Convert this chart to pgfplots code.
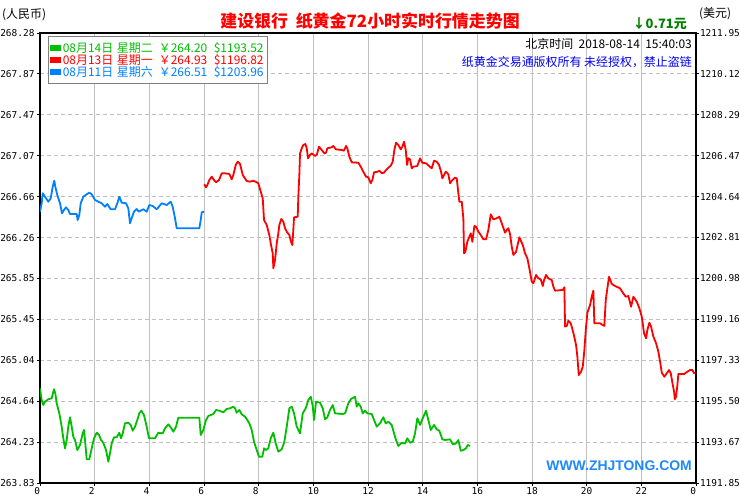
\documentclass[border=0pt]{standalone}
\usepackage{pgfplots}
\pgfplotsset{compat=1.18}
\usepackage{fontspec}
\setmainfont{DejaVu Sans}
\setmonofont{DejaVu Sans Mono}
\newfontfamily\cjk{Noto Sans CJK SC}
\newfontfamily\wm{Liberation Sans}
\definecolor{cgreen}{RGB}{0,190,0}
\definecolor{cred}{RGB}{255,0,0}
\definecolor{cblue}{RGB}{0,128,255}
\definecolor{gridc}{RGB}{192,192,192}
\definecolor{dkgreen}{RGB}{0,128,0}
\definecolor{wmblue}{RGB}{30,136,255}
\newcommand{\lent}[4]{\makebox[54bp][l]{#1}\makebox[42bp][l]{#2}\makebox[55bp][l]{#3}#4}
\begin{document}
\begin{tikzpicture}
\begin{axis}[
  scale only axis, width=656bp, height=450bp,
  xmin=0, xmax=24, ymin=263.83, ymax=268.28,
  axis line style={black, line width=1.2bp},
  xtick={0,2,...,24},
  xticklabels={0\phantom{0},2\phantom{0},4\phantom{0},6\phantom{0},8\phantom{0},10,12,14,16,18,20,22,0\phantom{0}},
  ytick={263.83,264.2345,264.639,265.0436,265.448,265.8527,266.257,266.6618,267.0664,267.4709,267.8755,268.28},
  yticklabels={263.83,264.23,264.64,265.04,265.45,265.85,266.26,266.66,267.07,267.47,267.87,268.28},
  tick align=outside, major tick length=3bp,
  tick style={black, line width=0.8bp},
  xtick pos=bottom, ytick pos=left,
  ticklabel style={font=\ttfamily\fontsize{9.5}{9.5}\selectfont},
  yticklabel style={xshift=1bp},
  xticklabel style={yshift=2bp},
  xmajorgrids, ymajorgrids,
  major x grid style={gridc, line width=1bp},
  major y grid style={gridc, line width=1bp, dash pattern=on 4bp off 3bp},
  legend style={at={(axis description cs:0.012,0.993)}, anchor=north west,
    draw={rgb,255:red,128;green,128;blue,128}, line width=1bp, fill=white,
    font=\cjk\fontsize{12}{12}\selectfont, inner xsep=1.5bp, inner ysep=3.5bp, row sep=-3.5bp,
    /tikz/every even column/.append style={column sep=1bp}},
  legend cell align=left,
  legend image code/.code={\fill[#1,draw=none] (0bp,-3bp) rectangle (11bp,3bp);},
  clip=true,
]
% Aug 14 (green)
\addplot[cgreen, line width=1.8bp, line join=round] coordinates {
(0,264.766)(0.062,264.651)(0.121,264.601)(0.183,264.634)(0.304,264.658)(0.428,264.668)
(0.512,264.757)(0.560,264.717)(0.611,264.618)(0.706,264.519)(0.794,264.387)(0.853,264.272)
(0.915,264.173)(0.977,264.255)(1.035,264.387)(1.098,264.480)(1.160,264.387)(1.218,264.288)
(1.281,264.255)(1.365,264.156)(1.464,264.206)(1.562,264.321)(1.610,264.354)(1.647,264.255)
(1.709,264.064)(1.804,264.064)(1.892,264.173)(1.976,264.272)(2.075,264.327)(2.159,264.305)
(2.232,264.255)(2.316,264.228)(2.415,264.156)(2.499,264.041)(2.561,264.124)(2.624,264.223)
(2.708,264.282)(2.806,264.282)(2.902,264.327)(2.964,264.272)(3.026,264.321)(3.110,264.420)
(3.231,264.426)(3.319,264.404)(3.392,264.347)(3.476,264.387)(3.560,264.453)(3.633,264.519)
(3.707,264.545)(3.805,264.502)(3.904,264.387)(3.988,264.272)(4.208,264.272)(4.329,264.327)
(4.490,264.321)(4.574,264.371)(4.694,264.410)(4.782,264.381)(4.877,264.337)(4.976,264.387)
(5.060,264.476)(5.829,264.476)(5.880,264.305)(5.975,264.354)(6.074,264.453)(6.158,264.493)
(6.341,264.512)(6.440,264.552)(6.561,264.545)(6.707,264.529)(6.831,264.562)(6.952,264.569)
(7.073,264.585)(7.135,264.569)(7.197,264.525)(7.292,264.552)(7.380,264.509)(7.501,264.486)
(7.585,264.453)(7.658,264.420)(7.746,264.354)(7.830,264.238)(7.929,264.156)(8.013,264.090)
(8.134,264.090)(8.196,264.173)(8.269,264.156)(8.353,264.173)(8.441,264.272)(8.537,264.327)
(8.624,264.223)(8.719,264.140)(8.844,264.163)(8.939,264.238)(9.027,264.387)(9.122,264.569)
(9.210,264.585)(9.294,264.519)(9.393,264.387)(9.513,264.321)(9.612,264.519)(9.722,264.569)
(9.817,264.651)(9.905,264.683)(9.978,264.591)(10.026,264.453)(10.099,264.634)(10.245,264.624)
(10.344,264.569)(10.428,264.460)(10.512,264.480)(10.611,264.552)(10.710,264.601)(10.794,264.519)
(11.076,264.512)(11.160,264.519)(11.281,264.618)(11.380,264.661)(11.526,264.683)(11.588,264.585)
(11.646,264.618)(11.734,264.585)(11.807,264.519)(11.892,264.545)(11.976,264.519)(12.137,264.512)
(12.221,264.453)(12.320,264.387)(12.441,264.420)(12.561,264.480)(12.649,264.420)(12.744,264.436)
(12.868,264.404)(12.953,264.321)(13.026,264.255)(13.110,264.196)(13.235,264.228)(13.355,264.221)
(13.439,264.272)(13.538,264.228)(13.637,264.238)(13.721,264.321)(13.805,264.470)(13.904,264.404)
(14.003,264.470)(14.124,264.545)(14.208,264.453)(14.296,264.354)(14.416,264.404)(14.515,264.361)
(14.610,264.347)(14.720,264.262)(14.819,264.255)(15.002,264.262)(15.100,264.213)(15.221,264.221)
(15.306,264.255)(15.393,264.149)(15.488,264.156)(15.587,264.173)(15.649,264.206)(15.734,264.196)
};
\addlegendentry{\textcolor{cgreen}{\lent{08月14日}{星期二}{￥264.20}{\$1193.52}}}
% Aug 13 (red)
\addplot[cred, line width=1.8bp, line join=round] coordinates {
(6.012,266.784)(6.074,266.754)(6.122,266.777)(6.195,266.826)(6.283,266.859)(6.367,266.826)
(6.440,266.804)(6.550,266.826)(6.648,266.893)(6.744,266.893)(6.927,266.886)(7.014,266.833)
(7.073,266.876)(7.161,266.975)(7.234,267.007)(7.318,266.985)(7.417,266.876)(7.563,266.816)
(7.684,266.810)(7.805,266.819)(7.903,266.807)(7.988,266.794)(8.075,266.711)(8.149,266.645)
(8.196,266.431)(8.295,266.381)(8.390,266.282)(8.452,266.184)(8.515,266.101)(8.537,265.953)
(8.599,266.035)(8.661,266.200)(8.719,266.299)(8.756,266.381)(8.829,266.441)(8.902,266.414)
(8.965,266.349)(9.027,266.315)(9.122,266.282)(9.184,266.216)(9.232,266.184)(9.268,266.332)
(9.294,266.457)(9.429,266.463)(9.451,266.661)(9.488,266.876)(9.513,267.090)(9.575,267.140)
(9.634,267.172)(9.707,267.182)(9.759,267.140)(9.806,267.041)(9.879,267.074)(9.942,267.090)
(10.062,267.064)(10.124,267.074)(10.209,267.156)(10.307,267.123)(10.402,267.090)(10.465,267.096)
(10.512,267.140)(10.673,267.150)(10.732,267.163)(10.820,267.130)(11.039,267.123)(11.123,267.116)
(11.196,267.163)(11.244,267.140)(11.317,267.057)(11.405,267.001)(11.646,266.997)(11.734,266.958)
(11.829,266.908)(11.928,266.859)(12.012,266.853)(12.100,266.794)(12.159,266.826)(12.221,266.902)
(12.342,266.908)(12.415,266.918)(12.503,266.893)(12.587,266.899)(12.660,266.925)(12.744,266.948)
(12.832,266.968)(12.905,267.007)(12.964,267.123)(13.026,267.195)(13.110,267.172)(13.198,267.130)
(13.257,267.156)(13.319,267.205)(13.381,267.123)(13.429,266.975)(13.476,267.041)(13.538,267.031)
(13.601,266.942)(13.659,266.958)(13.805,266.965)(13.904,267.041)(13.988,266.997)(14.124,266.991)
(14.233,266.965)(14.332,266.942)(14.416,267.017)(14.515,267.007)(14.599,266.975)(14.672,266.908)
(14.720,266.843)(14.782,266.876)(14.844,266.908)(14.940,266.883)(15.002,266.794)(15.086,266.826)
(15.185,266.849)(15.247,266.843)(15.306,266.695)(15.342,266.612)(15.430,266.612)(15.488,266.448)
(15.514,266.101)(15.562,266.117)(15.635,266.216)(15.708,266.266)(15.760,266.299)(15.818,266.216)
(15.891,266.371)(15.953,266.365)(16.038,266.315)(16.125,266.282)(16.220,266.240)(16.319,266.240)
(16.403,266.332)(16.491,266.487)(16.587,266.438)(16.711,266.448)(16.806,266.463)(16.894,266.398)
(17.015,266.305)(17.077,266.332)(17.135,266.349)(17.197,266.292)(17.259,266.167)(17.318,266.085)
(17.417,266.117)(17.537,266.260)(17.662,266.184)(17.746,266.101)(17.830,266.052)(17.903,265.953)
(17.991,265.821)(18.050,265.805)(18.149,265.887)(18.233,265.854)(18.320,265.844)(18.394,265.778)
(18.441,265.837)(18.514,265.887)(18.599,265.854)(18.723,265.837)(18.782,265.771)(18.844,265.732)
(19.126,265.739)(19.184,265.765)(19.210,265.376)(19.272,265.383)(19.330,265.435)(19.418,265.409)
(19.513,265.316)(19.612,265.195)(19.660,265.079)(19.711,264.898)(19.795,264.931)(19.857,264.980)
(19.916,265.145)(19.967,265.343)(20.026,265.514)(20.124,265.590)(20.186,265.672)(20.245,265.732)
(20.281,265.409)(20.490,265.409)(20.647,265.383)(20.698,265.640)(20.757,265.755)(20.819,265.870)
(20.918,265.798)(21.039,265.778)(21.222,265.755)(21.321,265.712)(21.431,265.672)(21.526,265.679)
(21.625,265.573)(21.709,265.672)(21.833,265.623)(21.928,265.558)(22.016,265.475)(22.100,265.310)
(22.174,265.261)(22.221,265.343)(22.294,265.415)(22.357,265.376)(22.441,265.277)(22.540,265.211)
(22.623,265.128)(22.686,265.030)(22.748,264.921)(22.843,264.881)(22.931,264.915)(23.015,264.947)
(23.077,264.915)(23.151,264.799)(23.198,264.733)(23.224,264.658)(23.271,264.683)(23.319,264.799)
(23.355,264.908)(23.564,264.908)(23.685,264.931)(23.783,264.947)(23.867,264.947)(23.929,264.915)
(24.0,264.915)
};
\addlegendentry{\textcolor{cred}{\lent{08月13日}{星期一}{￥264.93}{\$1196.82}}}
% Aug 11 (blue)
\addplot[cblue, line width=1.8bp, line join=round] coordinates {
(0,266.513)(0.062,266.596)(0.099,266.695)(0.183,266.661)(0.304,266.612)(0.392,266.645)
(0.465,266.760)(0.523,266.819)(0.560,266.760)(0.633,266.678)(0.732,266.596)(0.805,266.497)
(0.878,266.530)(0.951,266.556)(1.035,266.530)(1.098,266.490)(1.343,266.490)(1.379,266.431)
(1.438,266.480)(1.489,266.596)(1.584,266.661)(1.709,266.685)(1.804,266.701)(1.892,266.685)
(2.012,266.629)(2.133,266.612)(2.258,266.596)(2.378,266.562)(2.462,266.589)(2.587,266.537)
(2.744,266.537)(2.828,266.596)(2.902,266.661)(2.989,266.602)(3.147,266.596)(3.231,266.546)
(3.293,266.398)(3.355,266.448)(3.439,266.513)(3.538,266.540)(3.611,266.513)(3.780,266.537)
(3.904,266.513)(3.999,266.579)(4.124,266.569)(4.270,266.537)(4.453,266.596)(4.636,266.579)
(4.782,266.612)(4.855,266.562)(4.940,266.448)(5.002,266.349)(5.829,266.349)(5.880,266.431)
(5.917,266.507)(6.001,266.513)
};
\addlegendentry{\textcolor{cblue}{\lent{08月11日}{星期六}{￥266.51}{\$1203.96}}}
\end{axis}
\begin{axis}[
  scale only axis, width=656bp, height=450bp,
  xmin=0, xmax=24, ymin=1191.85, ymax=1211.95,
  axis x line=none, axis y line*=right,
  axis line style={black, line width=1.2bp},
  ytick={1191.85,1193.677,1195.505,1197.332,1199.159,1200.986,1202.814,1204.641,1206.468,1208.295,1210.123,1211.95},
  yticklabels={1191.85,1193.67,1195.50,1197.33,1199.16,1200.98,1202.81,1204.64,1206.47,1208.29,1210.12,1211.95},
  tick align=outside, major tick length=3bp,
  tick style={black, line width=0.8bp},
  ticklabel style={font=\ttfamily\fontsize{9.5}{9.5}\selectfont},
  yticklabel style={xshift=-2.5bp},
]
\end{axis}
% texts (axis lower-left at origin, 1bp = 1px)
\node[anchor=base, text=cred, font=\cjk\bfseries\fontsize{17}{17}\selectfont] at (330bp,455bp) {建设银行\ \ 纸黄金72小时实时行情走势图};
\node[anchor=base west, font=\cjk\fontsize{12}{12}\selectfont, inner sep=0pt] at (-38bp,464bp) {(人民币)};
\node[anchor=base west, font=\cjk\fontsize{12}{12}\selectfont, inner sep=0pt] at (659bp,465bp) {(美元)};
\node[anchor=base east, text=dkgreen, font=\cjk\bfseries\fontsize{13}{13}\selectfont, inner sep=0pt] at (647bp,454bp) {↓0.71元};
\node[anchor=base east, font=\cjk\fontsize{12}{12}\selectfont, inner sep=0pt] at (652bp,434bp) {北京时间\ \ 2018-08-14\ \ 15:40:03};
\node[anchor=base east, text=blue, font=\cjk\fontsize{12}{12}\selectfont, inner sep=0pt] at (652bp,416bp) {纸黄金交易通版权所有 未经授权，禁止盗链};
\node[anchor=base east, text=wmblue, font=\wm\bfseries\fontsize{14}{14}\selectfont, inner sep=0pt] at (652bp,13bp) {WWW.ZHJTONG.COM};
\pgfresetboundingbox
\path[use as bounding box] (-40bp,-17bp) rectangle (700bp,483bp);
\end{tikzpicture}
\end{document}
